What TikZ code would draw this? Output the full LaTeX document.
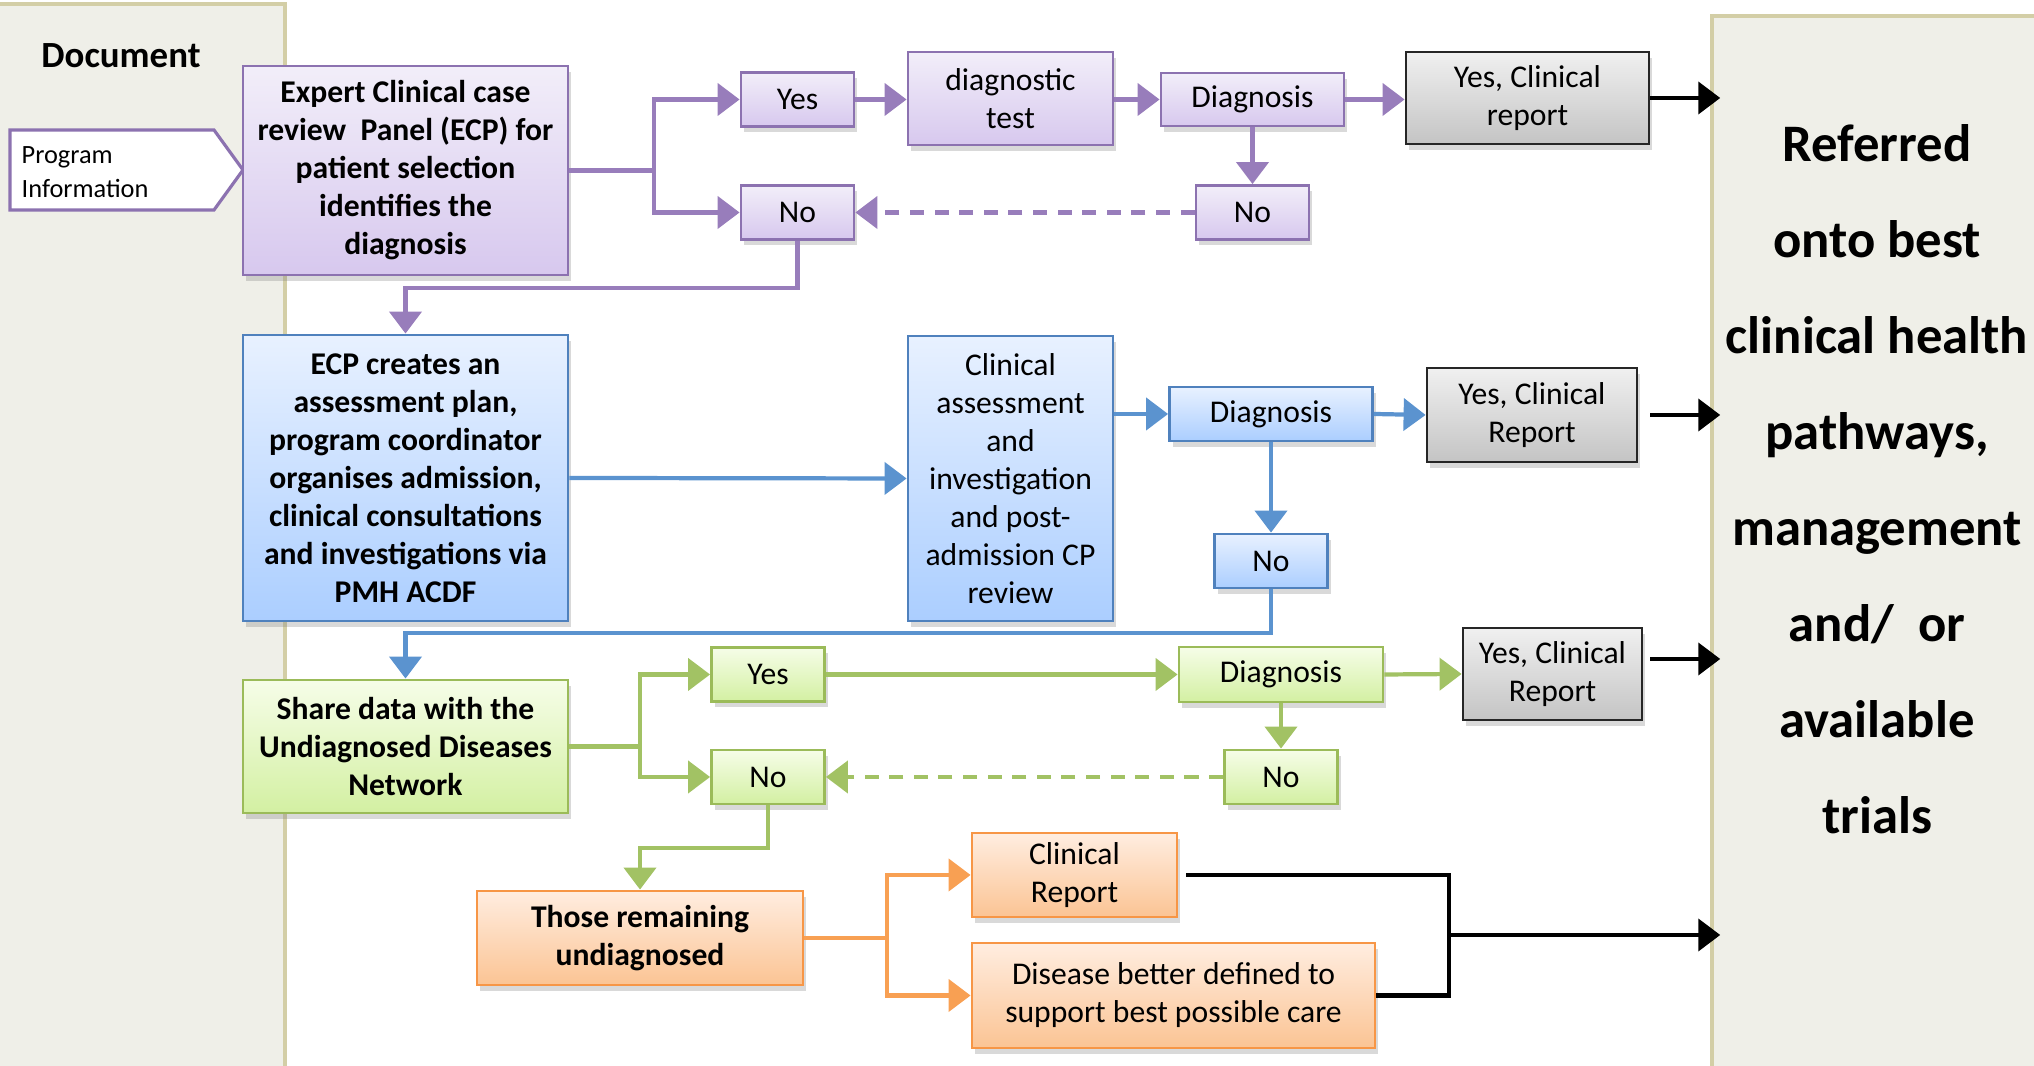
\documentclass[tikz,border=0pt]{standalone}
\usepackage{fontspec}
\setmainfont{Carlito}
\usepackage{tikz}
\usetikzlibrary{arrows.meta, positioning, calc, shadows}
\definecolor{panelfill}{HTML}{EFEFE8}
\definecolor{paneledge}{HTML}{D3CEA6}
\definecolor{ecppurple}{HTML}{8C72B0}
\definecolor{purpleline}{HTML}{987DBB}
\definecolor{purpletop}{HTML}{F2EEF9}
\definecolor{purplebot}{HTML}{D7C8EE}
\definecolor{ecpblue}{HTML}{4F81BD}
\definecolor{blueline}{HTML}{5B93CF}
\definecolor{bluetop}{HTML}{E8F1FF}
\definecolor{bluebot}{HTML}{ABCEFF}
\definecolor{ecpgreen}{HTML}{9BBB59}
\definecolor{greenline}{HTML}{A2C264}
\definecolor{greentop}{HTML}{F6FDE8}
\definecolor{greenbot}{HTML}{D3F0A2}
\definecolor{ecporange}{HTML}{F79646}
\definecolor{orangeline}{HTML}{F8A053}
\definecolor{orangetop}{HTML}{FFEDE0}
\definecolor{orangebot}{HTML}{FBC494}
\definecolor{greytop}{HTML}{F0F0F0}
\definecolor{greybot}{HTML}{C4C4C4}
\tikzset{
  flowbox/.style={draw, line width=0.8pt, align=center, inner sep=0pt,
    font=\fontsize{9}{10.8}\selectfont,
    drop shadow={shadow xshift=0.03cm, shadow yshift=-0.06cm, opacity=0.3}},
  purplebox/.style={flowbox, draw=ecppurple, top color=purpletop, bottom color=purplebot},
  bluebox/.style={flowbox, draw=ecpblue, top color=bluetop, bottom color=bluebot},
  greenbox/.style={flowbox, draw=ecpgreen, top color=greentop, bottom color=greenbot},
  orangebox/.style={flowbox, draw=ecporange, top color=orangetop, bottom color=orangebot},
  greybox/.style={flowbox, draw=black!85, top color=greytop, bottom color=greybot},
  yesno/.style={minimum width=1.13cm, minimum height=0.54cm},
  boldtext/.style={font=\fontsize{9}{10.8}\selectfont\bfseries},
  panel/.style={draw=paneledge, fill=panelfill, line width=1pt},
  link/.style={line width=1.2pt},
  arrow/.style={link, -{Triangle[length=0.22cm, width=0.32cm]}},
  purplelink/.style={link, draw=purpleline},
  purplearrow/.style={arrow, draw=purpleline},
  bluearrow/.style={arrow, draw=blueline},
  greenlink/.style={link, draw=greenline},
  greenarrow/.style={arrow, draw=greenline},
  orangelink/.style={link, draw=orangeline},
  orangearrow/.style={arrow, draw=orangeline},
  blacklink/.style={link, draw=black},
  blackarrow/.style={arrow, draw=black},
  dashlink/.style={dash pattern=on 4pt off 3pt}
}
\begin{document}
\begin{tikzpicture}
  \useasboundingbox (0,0) rectangle (20.34,10.66);
  \node[panel, minimum width=3.05cm, minimum height=10.92cm] (panelL) at (1.325,5.16) {};
  \node[panel, minimum width=3.30cm, minimum height=10.80cm] (panelR) at (18.77,5.10) {};
  \node[font=\fontsize{10.5}{12.6}\selectfont\bfseries] (docTitle) at (1.21,10.10) {Document};
  \node[font=\fontsize{15}{27.3}\selectfont\bfseries, align=center] (referred) at (18.77,5.87)
    {Referred\\onto best\\clinical health\\pathways,\\management\\and/~~or\\available\\trials};
  \draw[draw=ecppurple, fill=white, line width=0.9pt]
    (0.10,9.36) -- (2.14,9.36) -- (2.43,8.96) -- (2.14,8.56) -- (0.10,8.56) -- cycle;
  \node[font=\fontsize{7.5}{9.6}\selectfont, align=left, anchor=west, inner sep=0pt] (progInfo) at (0.21,8.94) {Program\\Information};

  \node[purplebox, boldtext, minimum width=3.25cm, minimum height=2.09cm] (ecp) at (4.055,8.955)
    {Expert Clinical case\\review~ Panel (ECP) for\\patient selection\\identifies the\\diagnosis};
  \node[purplebox, yesno] (yesA) at (7.975,9.665) {Yes};
  \node[purplebox, minimum width=2.05cm, minimum height=0.93cm] (testA) at (10.105,9.675) {diagnostic\\test};
  \node[purplebox, minimum width=1.83cm, minimum height=0.53cm] (diagA) at (12.525,9.665) {Diagnosis};
  \node[greybox, minimum width=2.43cm, minimum height=0.92cm] (repA) at (15.275,9.68) {Yes, Clinical\\report};
  \node[purplebox, yesno] (noAr) at (12.525,8.535) {No};
  \node[purplebox, yesno] (noAl) at (7.975,8.535) {No};

  \node[bluebox, boldtext, minimum width=3.25cm, minimum height=2.86cm] (planB) at (4.055,5.88)
    {ECP creates an\\assessment plan,\\program coordinator\\organises admission,\\clinical consultations\\and investigations via\\PMH ACDF};
  \node[bluebox, minimum width=2.05cm, minimum height=2.85cm] (assessB) at (10.105,5.875)
    {Clinical\\assessment\\and\\investigation\\and post-\\admission CP\\review};
  \node[bluebox, minimum width=2.03cm, minimum height=0.54cm] (diagB) at (12.71,6.52) {Diagnosis};
  \node[greybox, minimum width=2.10cm, minimum height=0.94cm] (repB) at (15.32,6.51) {Yes, Clinical\\Report};
  \node[bluebox, yesno] (noB) at (12.71,5.05) {No};

  \node[greenbox, boldtext, minimum width=3.25cm, minimum height=1.33cm] (shareC) at (4.055,3.195)
    {Share data with the\\Undiagnosed Diseases\\Network};
  \node[greenbox, yesno] (yesC) at (7.68,3.915) {Yes};
  \node[greenbox, minimum width=2.04cm, minimum height=0.55cm] (diagC) at (12.81,3.915) {Diagnosis};
  \node[greybox, minimum width=1.79cm, minimum height=0.92cm] (repC) at (15.525,3.92) {Yes, Clinical\\Report};
  \node[greenbox, yesno] (noCl) at (7.68,2.89) {No};
  \node[greenbox, yesno] (noCr) at (12.81,2.89) {No};

  \node[orangebox, boldtext, minimum width=3.26cm, minimum height=0.94cm] (restD) at (6.40,1.28)
    {Those remaining\\undiagnosed};
  \node[orangebox, minimum width=2.05cm, minimum height=0.84cm] (repD) at (10.745,1.91) {Clinical\\Report};
  \node[orangebox, minimum width=4.03cm, minimum height=1.05cm] (careD) at (11.735,0.705)
    {Disease better defined to\\support best possible care};

  \coordinate (forkA) at (6.54,8.955);
  \coordinate (forkC) at (6.40,3.195);
  \coordinate (forkD) at (8.87,1.28);
  \coordinate (joinD) at (14.49,1.31);

  \draw[purplelink] (ecp.east) -- (forkA);
  \draw[purplearrow] (forkA) |- (yesA.west);
  \draw[purplearrow] (forkA) |- (noAl.west);
  \draw[purplearrow] (yesA.east) -- (testA.west |- yesA.east);
  \draw[purplearrow] (testA.east |- diagA.west) -- (diagA.west);
  \draw[purplearrow] (diagA.east) -- (repA.west |- diagA.east);
  \draw[purplearrow] (diagA.south) -- (noAr.north);
  \draw[purplearrow, dashlink] (noAr.west) -- (noAl.east);
  \draw[purplearrow] (noAl.south) -- ++(0,-0.47) -| (planB.north);

  \draw[bluearrow] (planB.east) -- (assessB.west);
  \draw[bluearrow] (assessB.east |- diagB.west) -- (diagB.west);
  \draw[bluearrow] (diagB.east) -- (repB.west);
  \draw[bluearrow] (diagB.south) -- (noB.north);
  \draw[bluearrow] (noB.south) -- ++(0,-0.44) -| (shareC.north);

  \draw[greenlink] (shareC.east) -- (forkC);
  \draw[greenarrow] (forkC) |- (yesC.west);
  \draw[greenarrow] (forkC) |- (noCl.west);
  \draw[greenarrow] (yesC.east) -- (diagC.west);
  \draw[greenarrow] (diagC.east) -- (repC.west);
  \draw[greenarrow] (diagC.south) -- (noCr.north);
  \draw[greenarrow, dashlink] (noCr.west) -- (noCl.east);
  \draw[greenarrow] (noCl.south) -- ++(0,-0.43) -| (restD.north);

  \draw[orangelink] (restD.east) -- (forkD);
  \draw[orangearrow] (forkD) |- (repD.west);
  \draw[orangearrow] (forkD) |- (careD.west);

  \draw[blacklink] ([xshift=0.08cm]repD.east) -| (joinD) |- (careD.east);
  \draw[blackarrow, shorten >=-0.1cm] (joinD) -- (joinD -| panelR.west);
  \draw[blackarrow, shorten >=-0.1cm] (repA.east) -- (repA.east -| panelR.west);
  \draw[blackarrow, shorten >=-0.1cm] ([xshift=0.12cm]repB.east) -- (repB.east -| panelR.west);
  \draw[blackarrow, shorten >=-0.1cm] ([xshift=0.07cm, yshift=0.15cm]repC.east) -- ([yshift=0.15cm]repC.east -| panelR.west);
\end{tikzpicture}
\end{document}
